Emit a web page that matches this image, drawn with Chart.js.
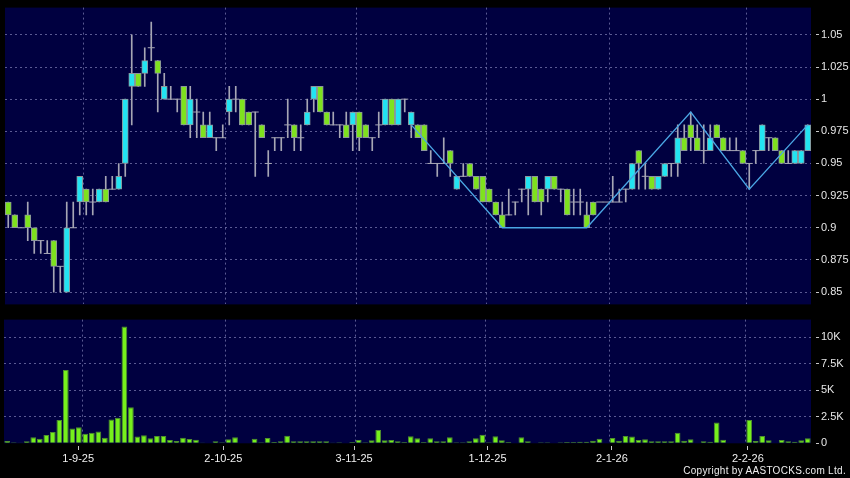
<!DOCTYPE html>
<html>
<head>
<meta charset="utf-8">
<title>Daily chart</title>
<script src="https://cdn.jsdelivr.net/npm/chart.js@4.4.1/dist/chart.umd.min.js"></script>
<style>
  html, body { margin: 0; padding: 0; background: #000; }
  #wrap { position: relative; width: 850px; height: 478px; overflow: hidden; background: #000; }
  #priceBox { position: absolute; left: 0; top: 0; }
  #volBox { position: absolute; left: 0; top: 312px; }
  #copy { position: absolute; right: 4px; top: 465px; color: #eeeeee; font: 10px Arial, "Liberation Sans", sans-serif; letter-spacing: 0.3px; line-height: 12px; }
</style>
</head>
<body>
<div id="wrap">
  <canvas id="priceBox" width="850" height="312"></canvas>
  <canvas id="volBox" width="850" height="166"></canvas>
  <div id="copy">Copyright by AASTOCKS.com Ltd.</div>
</div>
<script>
// daily candles, oldest first
const open = [
  .92, .91, .90, .91, .90, .89, .88, .89, .87, .85,
  .90, .92, .93, .92, .92, .93, .93, .93, .95, 1.01,
  1.02, 1.02, 1.04, 1.03, 1.00, 1.00, 1.00, 1.01, .98, .99,
  .98, .97, .97, .97, .99, 1.00, 1.00, .99, .99, .98,
  .95, .97, .97, .98, .98, .97, .98, 1.00, 1.01, .99,
  .98, .98, .98, .98, .99, .98, .97, .98, .98, 1.00,
  .98, 1.00, .98, .98, .98, .95, .95, .95, .96, .93,
  .94, .95, .94, .94, .93, .92, .91, .91, .92, .93,
  .93, .94, .93, .93, .94, .93, .93, .92, .92, .91,
  .92, .92, .92, .92, .92, .93, .93, .96, .94, .94,
  .93, .94, .95, .95, .97, .98, .97, .96, .96, .98,
  .97, .96, .96, .96, .95, .96, .96, .97, .97, .96,
  .95, .95, .95, .96
];
const high = [
  .92, .91, .90, .92, .90, .89, .89, .89, .87, .92,
  .92, .94, .93, .93, .93, .94, .94, .95, 1.00, 1.05,
  1.02, 1.04, 1.06, 1.03, 1.02, 1.01, 1.00, 1.01, 1.01, 1.00,
  .99, .99, .97, .98, 1.01, 1.01, 1.00, .99, .99, .98,
  .96, .97, .97, 1.00, .98, .98, 1.00, 1.01, 1.01, .99,
  .99, .98, .99, .99, .99, .98, .97, .99, 1.00, 1.00,
  1.00, 1.00, .99, .98, .98, .96, .95, .97, .96, .94,
  .95, .95, .94, .94, .93, .92, .92, .93, .92, .93,
  .94, .94, .93, .94, .94, .93, .93, .93, .93, .92,
  .92, .92, .92, .94, .93, .93, .95, .96, .95, .94,
  .94, .95, .95, .98, .98, .99, .98, .98, .98, .98,
  .97, .97, .97, .96, .95, .96, .98, .97, .97, .96,
  .96, .96, .96, .98
];
const low = [
  .90, .90, .90, .89, .88, .88, .88, .85, .85, .85,
  .90, .91, .91, .91, .92, .92, .93, .93, .94, .98,
  1.01, 1.01, 1.03, .99, 1.00, 1.00, .99, .98, .97, .97,
  .97, .97, .96, .97, .98, .99, .98, .98, .94, .97,
  .94, .96, .96, .97, .96, .96, .98, .99, .99, .98,
  .98, .97, .97, .96, .96, .97, .96, .97, .98, .98,
  .98, .99, .97, .97, .96, .95, .94, .95, .94, .93,
  .94, .94, .93, .92, .92, .91, .90, .91, .91, .92,
  .91, .92, .91, .92, .93, .92, .91, .91, .91, .90,
  .91, .92, .92, .92, .92, .92, .93, .93, .93, .93,
  .93, .94, .94, .94, .96, .96, .96, .95, .96, .97,
  .96, .96, .96, .95, .93, .95, .96, .96, .96, .95,
  .95, .95, .95, .96
];
const close = [
  .91, .90, .90, .90, .89, .89, .88, .87, .87, .90,
  .90, .94, .92, .92, .93, .92, .93, .94, 1.00, 1.02,
  1.01, 1.03, 1.04, 1.02, 1.01, 1.00, 1.00, .98, 1.00, .99,
  .97, .98, .97, .97, 1.00, 1.00, .98, .98, .99, .97,
  .95, .97, .97, .98, .97, .97, .99, 1.01, .99, .98,
  .98, .98, .97, .99, .97, .97, .97, .98, 1.00, .98,
  1.00, 1.00, .99, .97, .96, .95, .95, .95, .95, .94,
  .94, .94, .93, .92, .92, .91, .90, .91, .92, .93,
  .94, .92, .92, .94, .93, .93, .91, .92, .92, .90,
  .91, .92, .92, .92, .92, .93, .95, .95, .94, .93,
  .94, .95, .95, .97, .96, .97, .96, .96, .97, .97,
  .96, .96, .96, .95, .95, .96, .98, .97, .96, .95,
  .95, .96, .96, .98
];
const volume = [
  220, 100, 80, 200, 560, 440, 780, 1060, 2190, 6900,
  1400, 1500, 900, 1000, 1100, 530, 2250, 2400, 11000, 3400,
  630, 750, 470, 690, 690, 310, 220, 530, 400, 340,
  30, 0, 190, 100, 370, 560, 0, 60, 440, 100,
  500, 130, 190, 720, 190, 190, 190, 190, 190, 190,
  30, 100, 0, 120, 310, 100, 280, 1250, 280, 310,
  190, 120, 660, 470, 120, 470, 190, 190, 560, 100,
  100, 190, 470, 810, 100, 660, 280, 120, 0, 560,
  190, 0, 100, 100, 60, 100, 120, 120, 150, 150,
  250, 440, 0, 500, 250, 690, 630, 310, 370, 190,
  190, 190, 190, 1000, 250, 370, 0, 190, 150, 1970,
  340, 60, 0, 0, 2190, 220, 690, 280, 0, 310,
  190, 150, 280, 470
];

// month grid lines sit on these candles
const gridIdx = [12, 34, 54, 74, 93, 114];
// date labels and where they fall along the candle axis
const tickText = ['1-9-25', '2-10-25', '3-11-25', '1-12-25', '2-1-26', '2-2-26'];
const tickPos = [10.9, 33.2, 53.3, 73.8, 92.9, 113.8];

// drawn trend line vertices (candle index, price)
const trendIdx = [62, 76, 89, 105, 114, 123];
const trendVal = [0.98, 0.90, 0.90, 0.99, 0.93, 0.98];

const priceTicks = [0.85, 0.875, 0.9, 0.925, 0.95, 0.975, 1, 1.025, 1.05];
const volTicks = [0, 2500, 5000, 7500, 10000];

const UP = '#22e4f2';
const DOWN = '#7ee21e';
const EDGE = '#8c969c';
const WICK = '#a6a6b4';
const GRID = 'rgba(120,120,175,0.75)';
const PLOT_BG = '#000040';

Chart.defaults.font.family = 'Arial, "Liberation Sans", sans-serif';
Chart.defaults.font.size = 11;

const labels = open.map((_, i) => String(i));

const bodies = open.map((o, i) => o === close[i] ? null : [o, close[i]]);
const bodyColors = open.map((o, i) => close[i] > o ? UP : DOWN);
const wicks = low.map((l, i) => high[i] > l ? [l, high[i]] : null);
const dojis = open.map((o, i) => o === close[i] ? close[i] : null);
const trend = open.map(() => null);
trendIdx.forEach((idx, k) => { trend[idx] = trendVal[k]; });

const plotBg = {
    id: 'plotBg',
    beforeDraw(chart) {
        const { ctx, chartArea: a } = chart;
        ctx.save();
        ctx.fillStyle = PLOT_BG;
        ctx.fillRect(a.left, a.top, a.right - a.left, a.bottom - a.top);
        ctx.restore();
    }
};

const gridAtDates = ctx => (gridIdx.includes(ctx.index) ? GRID : 'transparent');

const baseOptions = {
    responsive: false,
    animation: false,
    events: [],
    plugins: { legend: { display: false }, tooltip: { enabled: false } }
};

// candle axis: only carries the month grid lines
const candleAxis = height => ({
    offset: true,
    afterFit: s => { s.height = height; },
    ticks: { display: false, autoSkip: false },
    grid: { offset: true, drawTicks: false, color: gridAtDates },
    border: { display: false, dash: [2, 3] }
});

new Chart(document.getElementById('priceBox'), {
    data: {
        labels: labels,
        datasets: [
            {
                type: 'line', data: trend, spanGaps: true,
                borderColor: '#4aa6e4', borderWidth: 1.3, pointRadius: 0, order: 0
            },
            {
                type: 'line', data: dojis, showLine: false,
                pointStyle: 'line', pointRadius: 3.5, pointBorderWidth: 1,
                pointBorderColor: WICK, pointBackgroundColor: WICK, order: 1
            },
            {
                type: 'bar', data: bodies, grouped: false,
                backgroundColor: bodyColors, borderColor: EDGE, borderWidth: 1,
                borderSkipped: false, barThickness: 6, order: 2
            },
            {
                type: 'bar', data: wicks, grouped: false,
                backgroundColor: WICK, borderWidth: 0, barThickness: 1, order: 3
            }
        ]
    },
    options: {
        ...baseOptions,
        layout: { padding: { left: 4, top: 5, right: 0, bottom: 0 } },
        scales: {
            x: candleAxis(7),
            y: {
                position: 'right',
                min: 0.8404, max: 1.0712,
                afterBuildTicks: s => { s.ticks = priceTicks.map(v => ({ value: v })); },
                afterFit: s => { s.width = 39; },
                ticks: {
                    color: '#e6e6e6', padding: 1,
                    callback: v => String(+Number(v).toFixed(3))
                },
                grid: {
                    color: GRID, tickLength: 9, tickColor: '#c8c8c8',
                    tickBorderDash: [0, 5, 3, 50]
                },
                border: { display: false, dash: [2, 3] }
            }
        }
    },
    plugins: [plotBg]
});

new Chart(document.getElementById('volBox'), {
    type: 'bar',
    data: {
        labels: labels,
        datasets: [{
            data: volume,
            backgroundColor: '#76f01c', borderColor: '#4f8f2e', borderWidth: 1,
            barPercentage: 0.88, categoryPercentage: 1
        }]
    },
    options: {
        ...baseOptions,
        layout: { padding: { left: 4, top: 7, right: 0, bottom: 0 } },
        scales: {
            x: candleAxis(0),
            dates: {
                type: 'linear',
                position: 'bottom',
                offset: false,
                min: -0.5, max: labels.length - 0.5,
                afterBuildTicks: s => { s.ticks = tickPos.map(v => ({ value: v })); },
                afterFit: s => { s.height = 34.7; },
                ticks: {
                    autoSkip: false, maxRotation: 0, color: '#f0f0f0', padding: 2,
                    callback: (v, i) => tickText[i]
                },
                grid: {
                    offset: false, drawOnChartArea: false, tickLength: 7, tickColor: '#c8c8c8',
                    tickBorderDash: [0, 3, 4, 50]
                },
                border: { display: false }
            },
            y: {
                position: 'right',
                min: 0, max: 11650,
                afterBuildTicks: s => { s.ticks = volTicks.map(v => ({ value: v })); },
                afterFit: s => { s.width = 39; },
                ticks: {
                    color: '#e6e6e6', padding: 1,
                    callback: v => (v === 0 ? '0' : (v / 1000) + 'K')
                },
                grid: {
                    color: ctx => (ctx.tick && ctx.tick.value === 0 ? 'transparent' : GRID),
                    tickLength: 9, tickColor: '#c8c8c8',
                    tickBorderDash: [0, 5, 3, 50]
                },
                border: { display: false, dash: [2, 3] }
            }
        }
    },
    plugins: [plotBg]
});
</script>
</body>
</html>
